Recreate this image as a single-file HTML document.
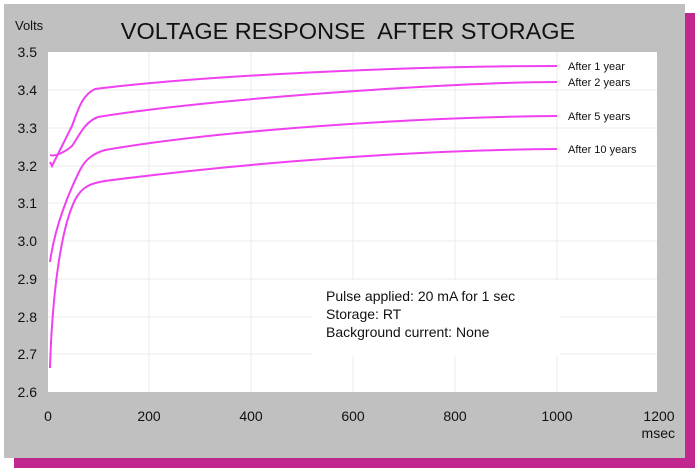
<!DOCTYPE html>
<html><head><meta charset="utf-8"><style>
html,body{margin:0;padding:0;background:#fff;}
</style></head><body>
<svg width="700" height="471" xmlns="http://www.w3.org/2000/svg" font-family="Liberation Sans, Arial, sans-serif">
<rect x="14" y="13" width="681" height="455" fill="#c0288f"/>
<rect x="4" y="4" width="681" height="454" fill="#c0c0c0"/>
<rect x="48" y="52" width="609" height="340" fill="#fff"/>
<g stroke="#ebebeb" stroke-width="1">
<line x1="48" y1="90" x2="657" y2="90"/><line x1="48" y1="128" x2="657" y2="128"/>
<line x1="48" y1="166" x2="657" y2="166"/><line x1="48" y1="203" x2="657" y2="203"/>
<line x1="48" y1="241" x2="657" y2="241"/><line x1="48" y1="279" x2="657" y2="279"/>
<line x1="48" y1="317" x2="657" y2="317"/><line x1="48" y1="354" x2="657" y2="354"/>
<line x1="149" y1="52" x2="149" y2="392"/><line x1="251" y1="52" x2="251" y2="392"/>
<line x1="353" y1="52" x2="353" y2="392"/><line x1="455" y1="52" x2="455" y2="392"/>
<line x1="557" y1="52" x2="557" y2="392"/>
</g>
<rect x="312" y="280" width="248" height="76" fill="#fff"/>
<text x="348" y="39" font-size="23.5" text-anchor="middle" fill="#111">VOLTAGE RESPONSE&#160; AFTER STORAGE</text>
<text x="15" y="30" font-size="13" fill="#111">Volts</text>
<g font-size="14" fill="#111" text-anchor="end">
<text x="37" y="57">3.5</text><text x="37" y="95">3.4</text><text x="37" y="133">3.3</text>
<text x="37" y="171">3.2</text><text x="37" y="208">3.1</text><text x="37" y="246">3.0</text>
<text x="37" y="284">2.9</text><text x="37" y="322">2.8</text><text x="37" y="359">2.7</text>
<text x="37" y="397">2.6</text>
</g>
<g font-size="14" fill="#111" text-anchor="middle">
<text x="48" y="421">0</text><text x="149" y="421">200</text><text x="251" y="421">400</text>
<text x="353" y="421">600</text><text x="455" y="421">800</text><text x="557" y="421">1000</text>
<text x="659" y="421">1200</text>
</g>
<text x="675" y="438" font-size="14" fill="#111" text-anchor="end">msec</text>
<g fill="none" stroke="#f040f0" stroke-width="2">
<path d="M50,162 L52,166 L62,146 L72,126 C78,110 82,95 95,89 C200,76 400,66 557,66"/>
<path d="M50,155 C55,157 65,152 72,146 C78,138 84,122 98,117 C200,100 450,82 557,82"/>
<path d="M50,262 C55,225 70,190 80,170 C86,158 95,153 105,150 C220,130 420,117 557,116"/>
<path d="M50,368 C52,300 60,230 75,200 C82,186 92,183 105,181 C250,162 420,150 557,149"/>
</g>
<g font-size="11" fill="#111">
<text x="568" y="70">After 1 year</text><text x="568" y="86">After 2 years</text>
<text x="568" y="120">After 5 years</text><text x="568" y="153">After 10 years</text>
</g>
<g font-size="14" fill="#111">
<text x="326" y="301">Pulse applied: 20 mA for 1 sec</text>
<text x="326" y="319">Storage: RT</text>
<text x="326" y="337">Background current: None</text>
</g>
</svg>
</body></html>
